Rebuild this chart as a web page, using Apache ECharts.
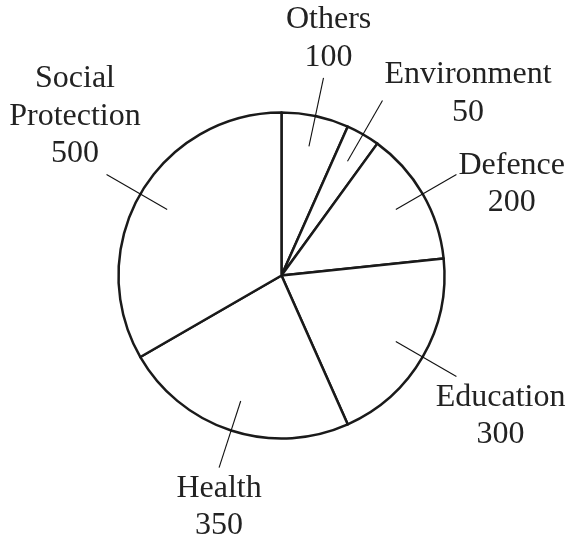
<!DOCTYPE html>
<html>
<head>
<meta charset="utf-8">
<script src="https://cdn.jsdelivr.net/npm/echarts@6/dist/echarts.min.js"></script>
<style>html,body{margin:0;padding:0;background:#fff}#c{width:578px;height:537px}</style>
</head>
<body>
<div id="c"></div>
<script>
var categories = ['Others', 'Environment', 'Defence', 'Education', 'Health', 'Social\nProtection'];
var values = [100, 50, 200, 300, 350, 500];

// label placement: which edge of the label box meets the leader line end, and where along that edge
var labelEdge = ['bottom', 'left', 'left', 'top', 'top', 'bottom'];
var labelEdgeFrac = [0.44, 0.59, 0.37, 0.16, 0.5, 0.74];

var data = categories.map(function (c, i) { return { name: c, value: values[i] }; });
var FONT = '"Liberation Serif", "Times New Roman", serif';

var chart = echarts.init(document.getElementById('c'), null, { renderer: 'canvas' });
chart.setOption({
  backgroundColor: '#fff',
  animation: false,
  series: [
    {
      type: 'pie',
      z: 1,
      center: [281.5, 275.5],
      radius: 163,
      startAngle: 90,
      clockwise: true,
      silent: true,
      avoidLabelOverlap: false,
      label: { show: false },
      labelLine: { show: false },
      itemStyle: { color: '#fff', borderColor: '#1a1a1a', borderWidth: 2.5 },
      emphasis: { disabled: true },
      data: data
    },
    {
      type: 'pie',
      z: 5,
      center: [281.5, 275.5],
      radius: 132,
      startAngle: 90,
      clockwise: true,
      silent: true,
      avoidLabelOverlap: false,
      itemStyle: { color: 'rgba(0,0,0,0)', borderWidth: 0 },
      emphasis: { disabled: true },
      label: {
        show: true,
        position: 'outside',
        formatter: function (p) { return p.name + '\n' + p.value; },
        fontFamily: FONT,
        fontSize: 32,
        lineHeight: 37.5,
        color: '#222',
        align: 'center'
      },
      labelLine: {
        show: true,
        length: 70,
        length2: 0,
        smooth: false,
        lineStyle: { color: '#111', width: 1.1 }
      },
      labelLayout: function (p) {
        var pts = p.labelLinePoints;
        if (!pts) return {};
        var a = pts[0], b = pts[1];
        var w = p.labelRect.width, h = p.labelRect.height;
        var i = p.dataIndex, side = labelEdge[i], f = labelEdgeFrac[i];
        var gap = 2, left, top;
        if (side === 'bottom') { left = b[0] - f * w; top = b[1] - gap - h; }
        else if (side === 'top') { left = b[0] - f * w; top = b[1] + gap; }
        else if (side === 'left') { left = b[0] + gap; top = b[1] - f * h; }
        else { left = b[0] - gap - w; top = b[1] - f * h; }
        return {
          x: left + w / 2,
          y: top,
          align: 'center',
          verticalAlign: 'top',
          labelLinePoints: [a, b, b]
        };
      },
      data: data
    }
  ]
});
</script>
</body>
</html>
